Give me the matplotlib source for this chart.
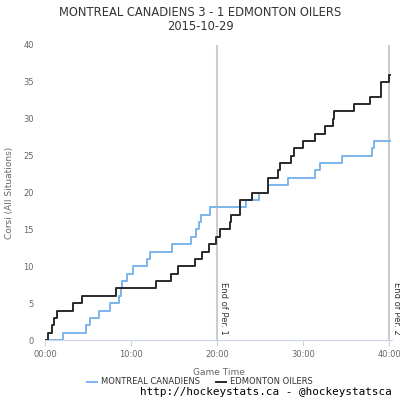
import numpy as np
import matplotlib.pyplot as plt

# Corsi event times (minutes of game time), one entry per shot attempt
mtl_times = [2.1, 4.8, 5.2, 6.3, 7.6, 8.6, 8.8, 8.95, 9.5, 10.2, 11.9, 12.2, 14.7,
             17.0, 17.5, 17.9, 18.1, 19.2, 23.4, 24.9, 25.9, 28.2, 31.3, 31.95,
             34.5, 37.95, 38.2]
edm_times = [0.4, 0.85, 1.1, 1.35, 3.2, 4.3, 8.25, 12.9, 14.6, 15.5, 17.4, 18.26,
             19.0, 19.9, 20.35, 21.5, 21.6, 22.6, 22.65, 24.0, 25.9, 25.95, 27.05,
             27.25, 28.6, 28.9, 30.0, 31.4, 32.5, 33.4, 33.6, 35.9, 37.7, 39.0,
             39.05, 39.9]
game_end = 40.1
period_ends = [20, 40]
period_labels = ["End of Per. 1", "End of Per. 2"]
x_ticks = [0, 10, 20, 30, 40]
x_tick_labels = ["00:00", "10:00", "20:00", "30:00", "40:00"]
y_ticks = [0, 5, 10, 15, 20, 25, 30, 35, 40]


def cumulative(times):
    t = np.concatenate([[0], times, [game_end]])
    v = np.concatenate([[0], np.arange(1, len(times) + 1), [len(times)]])
    return t, v


fig = plt.figure(figsize=(4, 4), dpi=100)
ax = fig.add_axes([0.1125, 0.15, 0.8675, 0.7375])

for x, lab in zip(period_ends, period_labels):
    ax.axvline(x, color="#cccccc", lw=1.5, zorder=1)
    ax.text(x + 0.25, 0.7, lab, rotation=270, ha="left", va="bottom",
            fontsize=6, color="#333333", clip_on=False)

t, v = cumulative(mtl_times)
ax.step(t, v, where="post", color="#7cb5ec", lw=1.4, label="MONTREAL CANADIENS", zorder=3)
t, v = cumulative(edm_times)
ax.step(t, v, where="post", color="#2a2a2a", lw=1.4, label="EDMONTON OILERS", zorder=3)

ax.set_xlim(0, 40.3)
ax.set_ylim(0, 40)
ax.set_xticks(x_ticks)
ax.set_xticklabels(x_tick_labels)
ax.set_yticks(y_ticks)

for s in ["top", "right", "left"]:
    ax.spines[s].set_visible(False)
ax.spines["bottom"].set_color("#ccd6eb")
ax.tick_params(axis="x", colors="#ccd6eb", labelcolor="#666666", labelsize=6, length=4)
ax.tick_params(axis="y", length=0, labelcolor="#666666", labelsize=6, pad=8)

ax.set_xlabel("Game Time", fontsize=6.5, color="#666666", labelpad=6)
ax.set_ylabel("Corsi (All Situations)", fontsize=6.5, color="#666666", labelpad=7)

fig.text(0.5, 1 - 12 / 400, "MONTREAL CANADIENS 3 - 1 EDMONTON OILERS",
         ha="center", va="center", fontsize=8.3, color="#333333")
fig.text(0.5, 1 - 26 / 400, "2015-10-29", ha="center", va="center",
         fontsize=8.3, color="#333333")

fig.legend(loc="center", bbox_to_anchor=(0.5, 1 - 382 / 400), ncol=2,
           frameon=False, fontsize=6, handlelength=1.2, handletextpad=0.4,
           columnspacing=2.0, labelcolor="#333333")

fig.text(0.98, 1 - 392 / 400, "http://hockeystats.ca - @hockeystatsca",
         ha="right", va="center", fontsize=7.9, family="DejaVu Sans Mono",
         color="black")

fig.savefig("out.png", dpi=100)
